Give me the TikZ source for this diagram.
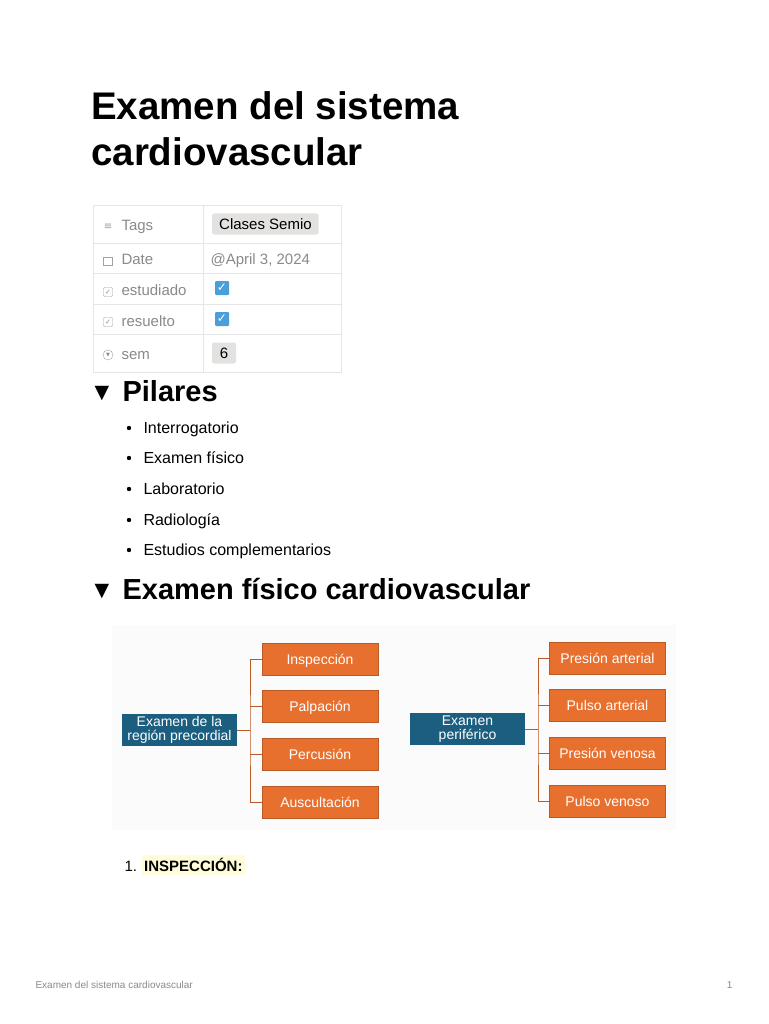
\documentclass[tikz,border=0pt]{standalone}
\usepackage{fontspec}
\setmainfont{Liberation Sans}
\newfontfamily\djvfont{DejaVu Sans}
\usetikzlibrary{positioning}
\definecolor{org}{HTML}{E8702F}
\definecolor{blu}{HTML}{1B5E7F}
\definecolor{lnc}{HTML}{E6E6E6}
\definecolor{grt}{HTML}{8A8A8A}
\definecolor{chk}{HTML}{4A9FD8}
\definecolor{tagbg}{HTML}{E3E2E0}
\tikzset{x=1pt,y=-1pt,
 obox/.style={fill=org,draw=org!80!black,line width=0.4pt,minimum width=116,minimum height=32,text=white,font=\fontsize{14}{14}\selectfont,inner sep=0,text height=12,text depth=2},
 bbox/.style={fill=blu,minimum width=115,minimum height=32,text=white,align=center,font=\fontsize{14}{14}\selectfont,inner sep=0},
 conn/.style={draw=org!80!black,line width=0.6pt},
 lbl/.style={anchor=west,text=grt,font=\fontsize{15}{15}\selectfont,text height=14,text depth=2},
 bul/.style={anchor=west,font=\fontsize{16}{16}\selectfont,text height=14,text depth=2.5},
 chkbox/.style={fill=chk,minimum size=14,inner sep=0,rounded corners=1}}
\begin{document}
\begin{tikzpicture}
\useasboundingbox (0,0) rectangle (768,1024);
\fill[white] (0,0) rectangle (768,1024);
% title
\node[anchor=north west,align=left,font=\bfseries\fontsize{38.5}{46}\selectfont,inner sep=0] (title) at (91,91) {Examen del sistema\\cardiovascular};
% table
\draw[lnc] (93,205) rectangle (341,372);
\foreach \y in {243,273,304,334} \draw[lnc] (93,\y) -- (341,\y);
\draw[lnc] (203,205) -- (203,372);
\node[lbl] (t1) at (118,224) {Tags};
\node[lbl] (t2) at (118,258) {Date};
\node[lbl] (t3) at (118,289) {estudiado};
\node[lbl] (t4) at (118,320) {resuelto};
\node[lbl] (t5) at (118,353) {sem};
\node[text=grt!80,font=\fontsize{10}{10}\selectfont\djvfont] (i1) at (108,227) {≡};
\node[draw=grt!80,minimum width=9,minimum height=8,inner sep=0] (i2) at (108,261) {};
\node[draw=grt!80,minimum size=9,inner sep=0,rounded corners=1,font=\fontsize{7}{7}\selectfont\djvfont,text=grt] (i3) at (108,292) {✓};
\node[draw=grt!80,minimum size=9,inner sep=0,rounded corners=1,font=\fontsize{7}{7}\selectfont\djvfont,text=grt] (i4) at (108,322) {✓};
\node[draw=grt!80,circle,minimum size=10,inner sep=0,font=\fontsize{5}{5}\selectfont\djvfont,text=grt] (i5) at (108,355) {▼};
\node[fill=tagbg,rounded corners=2,anchor=west,font=\fontsize{15}{15}\selectfont,inner xsep=7,inner ysep=3,text height=13,text depth=2] (v1) at (212,224) {Clases Semio};
\node[lbl] (v2) at (207,258) {@April 3, 2024};
\node[chkbox,text=white,font=\fontsize{12}{12}\selectfont\djvfont] (v3) at (222,288) {✓};
\node[chkbox,text=white,font=\fontsize{12}{12}\selectfont\djvfont] (v4) at (222,319) {✓};
\node[fill=tagbg,rounded corners=2,minimum width=24,minimum height=21,font=\fontsize{15}{15}\selectfont,text height=12,text depth=1] (v5) at (224,353) {6};
% Pilares
\node[font=\fontsize{19}{19}\selectfont\djvfont] (tri1) at (102,394) {▼};
\node[anchor=west,font=\fontsize{29}{29}\selectfont\bfseries] (h1) at (119,391) {Pilares};
\foreach \y/\t in {428/Interrogatorio,458/Examen físico,489/Laboratorio,520/Radiología,550/Estudios complementarios}{
 \fill (129,\y) circle (2.2);
 \node[bul] at (140,\y) {\t};}
\node[font=\fontsize{19}{19}\selectfont\djvfont] (tri2) at (102,592) {▼};
\node[anchor=west,font=\fontsize{29}{29}\selectfont\bfseries] (h2) at (119,589) {Examen físico cardiovascular};
% diagram
\fill[black!1.5] (112,625) rectangle (676,830);
\node[bbox] (L) at (179.5,730) {Examen de la\\región precordial};
\node[obox] (L1) at (320,659) {Inspección};
\node[obox] (L2) at (320,706) {Palpación};
\node[obox] (L3) at (320,754) {Percusión};
\node[obox] (L4) at (320,802) {Auscultación};
\coordinate (LB) at (250,730);
\draw[conn] (L.east) -- (LB);
\draw[conn] (L1.west) -| (LB) |- (L4.west);
\draw[conn] (LB|-L2) -- (L2.west);
\draw[conn] (LB|-L3) -- (L3.west);
\node[bbox] (R) at (467.5,729) {Examen\\periférico};
\node[obox] (R1) at (607.5,658) {Presión arterial};
\node[obox] (R2) at (607.5,705) {Pulso arterial};
\node[obox] (R3) at (607.5,753) {Presión venosa};
\node[obox] (R4) at (607.5,801) {Pulso venoso};
\coordinate (RB) at (538,729);
\draw[conn] (R.east) -- (RB);
\draw[conn] (R1.west) -| (RB) |- (R4.west);
\draw[conn] (RB|-R2) -- (R2.west);
\draw[conn] (RB|-R3) -- (R3.west);
% numbered
\node[anchor=west,font=\fontsize{15}{15}\selectfont] (n1) at (121,866) {1.};
\node[anchor=west,fill=yellow!15,inner xsep=2,inner ysep=3,font=\fontsize{15}{15}\selectfont\bfseries] (n1t) at (142,865) {INSPECCIÓN:};
% footer
\node[anchor=west,text=grt,font=\fontsize{10}{10}\selectfont] (f1) at (32,985) {Examen del sistema cardiovascular};
\node[anchor=east,text=grt,font=\fontsize{10}{10}\selectfont] (f2) at (736,985) {1};
\end{tikzpicture}
\end{document}
